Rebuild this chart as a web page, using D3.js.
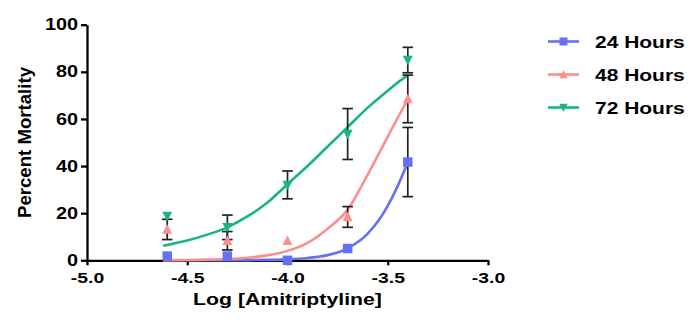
<!DOCTYPE html>
<html>
<head>
<meta charset="utf-8">
<script src="https://cdn.jsdelivr.net/npm/d3@7"></script>
<style>
  html, body { margin: 0; padding: 0; background: #fff; }
  svg { display: block; }
  text { font-family: "Liberation Sans", Arial, sans-serif; font-weight: bold; fill: #000; }
</style>
</head>
<body>
<svg id="chart" width="700" height="325"></svg>
<script>
// ---- data ----
const seriesNames = ["24 Hours", "48 Hours", "72 Hours"];
const logConc = [-4.6, -4.3, -4.0, -3.7, -3.4];
const mort24 = [1.8, 1.8, 0, 5, 41.7];
const err24 = [0, 0, 0, 0, 14.7];
const mort48 = [13.1, 8.3, 8.3, 18.4, 68.5];
const err48 = [4.3, 3.9, 0, 4.4, 10.1];
const mort72 = [18.8, 14.0, 32.0, 53.6, 85.0];
const err72 = [0, 5.2, 5.9, 10.8, 5.4];
// fitted curves
const curveX = [-4.62, -4.5, -4.4, -4.3, -4.2, -4.1, -4.0, -3.9, -3.8, -3.7, -3.6, -3.5, -3.45, -3.4];
const fit24 = [0, 0, 0, 0.02, 0.07, 0.17, 0.4, 1.0, 2.2, 5.1, 11.3, 23.1, 31.6, 41.6];
const fit48 = [0.07, 0.15, 0.3, 0.57, 1.1, 2.1, 4.0, 7.4, 13.4, 21.5, 36.4, 52.5, 60.5, 68.2];
const fit72 = [6.2, 8.4, 10.9, 14.0, 18.6, 24.5, 32.3, 40.0, 48.3, 56.5, 64.8, 72.0, 75.5, 78.6];
const xTicks = [-5.0, -4.5, -4.0, -3.5, -3.0];
const yTicks = [0, 20, 40, 60, 80, 100];
const colors = ["#6670f5", "#fc8f8b", "#15b682"];
const markers = ["square", "up", "down"];

const series = [
  { name: seriesNames[0], y: mort24, e: err24, fit: fit24, color: colors[0], marker: markers[0] },
  { name: seriesNames[1], y: mort48, e: err48, fit: fit48, color: colors[1], marker: markers[1] },
  { name: seriesNames[2], y: mort72, e: err72, fit: fit72, color: colors[2], marker: markers[2] }
];

const svg = d3.select("#chart");
const x = d3.scaleLinear().domain([-5, -3]).range([87, 488]);
const y = d3.scaleLinear().domain([0, 100]).range([260.3, 24.7]);

function stretch(sel, factor) {
  sel.each(function () {
    const w = this.getComputedTextLength();
    d3.select(this).attr("textLength", w * factor).attr("lengthAdjust", "spacingAndGlyphs");
  });
}

// axes
const yAxis = svg.append("g").attr("transform", `translate(${x(-5)},0)`)
  .call(d3.axisLeft(y).tickValues(yTicks).tickFormat(d3.format("d")).tickSize(6).tickPadding(3).tickSizeOuter(0));
const xAxis = svg.append("g").attr("transform", `translate(0,${y(0)})`)
  .call(d3.axisBottom(x).tickValues(xTicks).tickFormat(d3.format(".1f")).tickSize(5).tickPadding(7).tickSizeOuter(0));
[yAxis, xAxis].forEach(g => {
  g.select(".domain").attr("stroke", "#000").attr("stroke-width", 2.3);
  g.selectAll(".tick line").attr("stroke", "#000").attr("stroke-width", 2.3);
});
yAxis.selectAll(".tick text").style("font-size", "16px").attr("font-family", null).attr("font-size", null).call(stretch, 1.24);
xAxis.selectAll(".tick text").text(d => d3.format(".1f")(d).replace("−", "-"))
  .style("font-size", "15.5px").attr("font-family", null).attr("font-size", null).call(stretch, 1.25);

// axis titles
svg.append("text").attr("x", 287.5).attr("y", 305).attr("text-anchor", "middle")
  .style("font-size", "17px").text("Log [Amitriptyline]").call(stretch, 1.25);
svg.append("text").attr("transform", "translate(30.5,142.5) rotate(-90)").attr("text-anchor", "middle")
  .style("font-size", "18.5px").attr("textLength", 151).attr("lengthAdjust", "spacingAndGlyphs")
  .text("Percent Mortality");

// fitted curves
const line = d3.line().x(d => x(d[0])).y(d => y(d[1])).curve(d3.curveMonotoneX);
series.forEach(s => {
  svg.append("path").datum(curveX.map((cx, i) => [cx, s.fit[i]]))
    .attr("d", line).attr("fill", "none").attr("stroke", s.color).attr("stroke-width", 2.6);
});

// error bars
series.forEach(s => {
  logConc.forEach((cx, i) => {
    if (!s.e[i]) return;
    const g = svg.append("g").attr("stroke", "#222").attr("stroke-width", 1.7);
    const px = x(cx), top = y(s.y[i] + s.e[i]), bot = y(s.y[i] - s.e[i]);
    g.append("line").attr("x1", px).attr("x2", px).attr("y1", top).attr("y2", bot);
    g.append("line").attr("x1", px - 5.3).attr("x2", px + 5.3).attr("y1", top).attr("y2", top);
    g.append("line").attr("x1", px - 5.3).attr("x2", px + 5.3).attr("y1", bot).attr("y2", bot);
  });
});

// markers
function drawMarker(g, type, cx, cy, size, color) {
  if (type === "square") {
    g.append("rect").attr("x", cx - size / 2).attr("y", cy - size / 2)
      .attr("width", size).attr("height", size).attr("fill", color);
  } else if (type === "up") {
    const h = size * 0.95, w = size;
    g.append("path").attr("d", `M${cx},${cy - h * 0.55}L${cx + w / 2},${cy + h * 0.45}L${cx - w / 2},${cy + h * 0.45}Z`).attr("fill", color);
  } else {
    const h = size * 0.95, w = size;
    g.append("path").attr("d", `M${cx},${cy + h * 0.55}L${cx + w / 2},${cy - h * 0.45}L${cx - w / 2},${cy - h * 0.45}Z`).attr("fill", color);
  }
}
series.forEach(s => {
  const g = svg.append("g");
  logConc.forEach((cx, i) => drawMarker(g, s.marker, x(cx), y(s.y[i]), s.marker === "square" ? 9.5 : 10, s.color));
});

// legend
const leg = svg.append("g");
series.forEach((s, i) => {
  const ly = 41.5 + i * 33;
  leg.append("line").attr("x1", 548).attr("x2", 579).attr("y1", ly).attr("y2", ly)
    .attr("stroke", s.color).attr("stroke-width", 2.6);
  drawMarker(leg, s.marker, 563.5, ly, s.marker === "square" ? 8 : 8.5, s.color);
  leg.append("text").attr("x", 595).attr("y", ly + 6).style("font-size", "16.8px")
    .text(s.name).call(stretch, 1.25);
});
</script>
</body>
</html>
